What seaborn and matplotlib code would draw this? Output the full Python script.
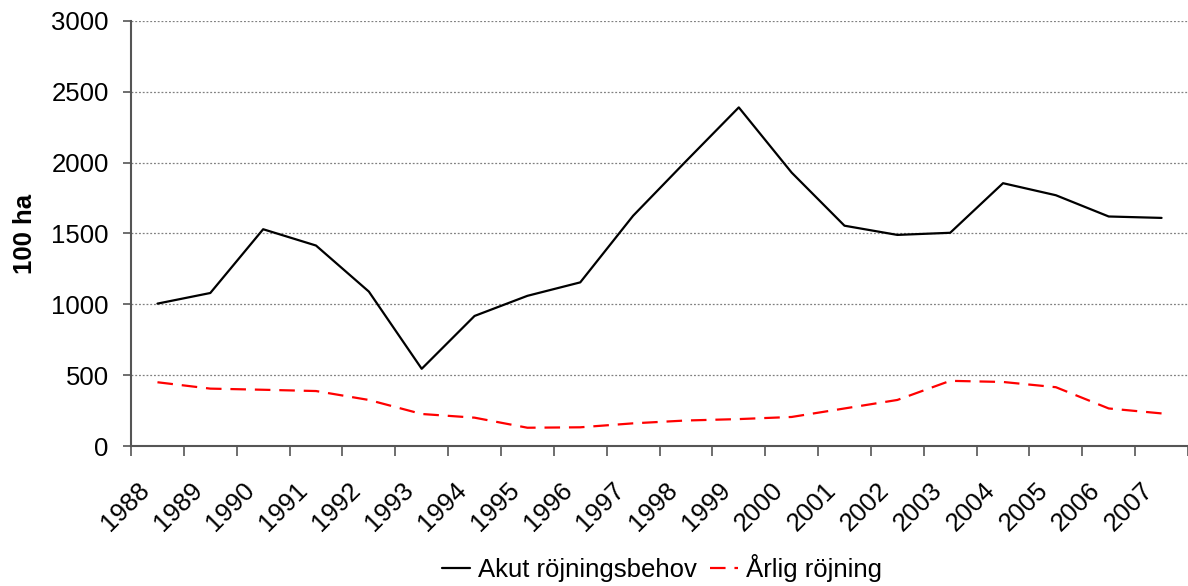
import matplotlib
matplotlib.use("Agg")
import pandas as pd
import matplotlib.pyplot as plt
import matplotlib.transforms as mtransforms
import seaborn as sns

# values (unit: 100 ha)
years = [str(y) for y in range(1988, 2008)]
akut = [1005, 1080, 1530, 1415, 1090, 545, 918, 1060, 1155, 1625,
        2010, 2390, 1930, 1555, 1490, 1505, 1855, 1770, 1620, 1610]
arlig = [450, 405, 397, 388, 325, 226, 200, 129, 132, 160,
         180, 190, 205, 265, 325, 460, 452, 415, 265, 230]
series_names = ["Akut röjningsbehov", "Årlig röjning"]
y_ticks = [0, 500, 1000, 1500, 2000, 2500, 3000]

df = pd.concat([
    pd.DataFrame({"year": years, "value": akut, "series": series_names[0]}),
    pd.DataFrame({"year": years, "value": arlig, "series": series_names[1]}),
])

sns.set_style("white")
plt.rcParams["font.family"] = ["Liberation Sans", "DejaVu Sans"]
for key in ["text.color", "axes.labelcolor", "xtick.labelcolor", "ytick.labelcolor"]:
    plt.rcParams[key] = "black"

fig = plt.figure(figsize=(11.88, 5.86), dpi=100)
ax = fig.add_axes([0.1103, 0.2389, 0.8897, 0.7253])

sns.lineplot(data=df, x="year", y="value", hue="series", style="series",
             palette={series_names[0]: "black", series_names[1]: "#ff0000"},
             dashes={series_names[0]: "", series_names[1]: (7, 4)},
             linewidth=1.6, sort=False, ax=ax, legend=True)

ax.set_xlim(-0.5, len(years) - 0.5)
ax.set_ylim(0, 3000)
ax.set_yticks(y_ticks)
ax.yaxis.grid(True, color="#808080", linestyle=(0, (1.5, 1.5)), linewidth=0.9)
ax.set_axisbelow(True)

# category boundaries get the tick marks, labels sit at the centres
ax.set_xticks(range(len(years)))
ax.set_xticklabels(years, rotation=45, ha="right", va="center",
                   rotation_mode="anchor")
ax.set_xticks([i - 0.5 for i in range(len(years) + 1)], minor=True)
ax.tick_params(axis="x", which="major", length=0, pad=29, labelsize=18.5)
ax.tick_params(axis="x", which="minor", length=7, width=1.2,
               color="#555555", direction="out", bottom=True)
ax.tick_params(axis="y", length=6, width=1.2, color="#555555",
               direction="out", left=True, labelsize=18.5, pad=10)
offset = mtransforms.ScaledTranslation(-12 / 100, 0, fig.dpi_scale_trans)
for lbl in ax.get_xticklabels():
    lbl.set_transform(lbl.get_transform() + offset)

ax.set_xlabel("")
ax.set_ylabel("100 ha", fontsize=18.5, fontweight="bold", labelpad=10)

for side in ["top", "right"]:
    ax.spines[side].set_visible(False)
for side in ["left", "bottom"]:
    ax.spines[side].set_color("#555555")
    ax.spines[side].set_linewidth(1.5)

handles, labels = ax.get_legend_handles_labels()
ax.get_legend().remove()
fig.legend(handles, labels, loc="center", bbox_to_anchor=(0.557, 0.03),
           ncol=2, frameon=False, fontsize=18.5, handlelength=1.1,
           handletextpad=0.3, columnspacing=0.5)

fig.savefig("out.png", dpi=100)
